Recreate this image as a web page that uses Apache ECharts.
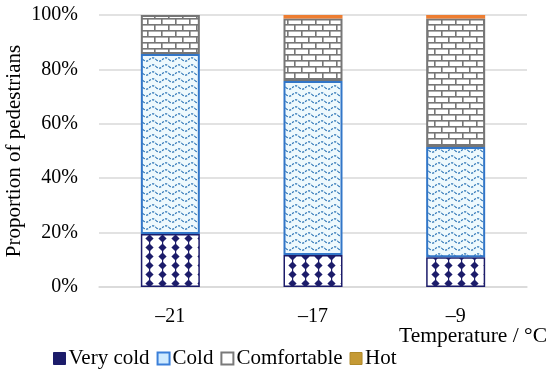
<!DOCTYPE html><html><head><meta charset="utf-8">
<script src="https://cdn.jsdelivr.net/npm/echarts@6/dist/echarts.min.js"></script>
<style>html,body{margin:0;padding:0;background:#fff}#c{width:550px;height:369px}</style>
</head><body><div id="c"></div><script>
const categories=['–21','–17','–9'];
const veryCold=[19.5,11.8,10.9];
const cold=[66.2,63.9,40.6];
const comfortable=[14.3,23.0,47.2];
const hot=[0,1.3,1.3];
const seriesNames=['Very cold','Cold','Comfortable','Hot'];
const yTitle='Proportion of pedestrians';
const xTitle='Temperature / °C';

function mk(w,h,draw){const c=document.createElement('canvas');c.width=w;c.height=h;const g=c.getContext('2d');draw(g,w,h);return c;}
const pVery=mk(13,9,(g,w,h)=>{g.fillStyle='#fff';g.fillRect(0,0,w,h);g.fillStyle='#1c1c6a';
  g.fillRect(6,0,1.2,h);
  g.beginPath();g.moveTo(6.5,0.4);g.lineTo(10.6,4.5);g.lineTo(6.5,8.6);g.lineTo(2.4,4.5);g.closePath();g.fill();});
const pCold=mk(13,7,(g,w,h)=>{g.fillStyle='#eef9fd';g.fillRect(0,0,w,h);g.strokeStyle='#2e75b6';g.lineWidth=1.2;g.setLineDash([2.2,1.3]);
  g.beginPath();for(let x=0;x<=w;x+=0.5){const y=3.5+1.7*Math.sin(x/w*2*Math.PI);if(x===0)g.moveTo(x,y);else g.lineTo(x,y);}g.stroke();});
const pBrick=mk(14,12,(g,w,h)=>{g.fillStyle='#fff';g.fillRect(0,0,w,h);g.fillStyle='#777';
  g.fillRect(0,0,w,1.6);g.fillRect(0,6,w,1.6);g.fillRect(0,0,1.6,6);g.fillRect(7,6,1.6,6);});

const chart=echarts.init(document.getElementById('c'));
const font='Liberation Serif';
function seg(name,data,fill,border,bw){
  return {name,type:'bar',stack:'t',data,barWidth:59,
    itemStyle:{color:{image:fill,repeat:'repeat'},borderColor:border,borderWidth:bw}};
}
chart.setOption({
  animation:false,
  textStyle:{fontFamily:font},
  grid:{left:99,right:23,top:15,bottom:82,outerBoundsMode:'none',containLabel:false},
  legend:{left:48,top:343,itemWidth:12,itemHeight:12,itemGap:7,icon:'rect',
    textStyle:{fontFamily:font,fontSize:21,color:'#000',padding:[0,0,0,-2]},
    data:[
      {name:seriesNames[0],itemStyle:{color:'#1c1c6a',borderColor:'#1c1c6a',borderWidth:1}},
      {name:seriesNames[1],itemStyle:{color:'#cfeaff',borderColor:'#3b7fd9',borderWidth:2}},
      {name:seriesNames[2],itemStyle:{color:'#ffffff',borderColor:'#7a7a7a',borderWidth:2}},
      {name:seriesNames[3],itemStyle:{color:'#c59a35',borderColor:'#b08a2a',borderWidth:1}}
    ]},
  xAxis:{type:'category',data:categories,
    axisLine:{lineStyle:{color:'#d9d9d9',width:1.5}},axisTick:{show:false},
    axisLabel:{fontFamily:font,fontSize:20,color:'#000',margin:20}},
  yAxis:{type:'value',min:0,max:100,interval:20,
    axisLabel:{formatter:'{value}%',fontFamily:font,fontSize:20,color:'#000',margin:21},
    axisLine:{show:false},axisTick:{show:false},
    splitLine:{lineStyle:{color:'#d9d9d9',width:1.5}}},
  graphic:[
    {type:'text',right:3,top:325,style:{text:xTitle,font:'21.5px "Liberation Serif"',fill:'#000'}},
    {type:'text',x:14,y:151,rotation:Math.PI/2,style:{text:yTitle,font:'21px "Liberation Serif"',fill:'#000',align:'center',verticalAlign:'middle'}}
  ],
  series:[
    seg(seriesNames[0],veryCold,pVery,'#1c1c6a',1.5),
    seg(seriesNames[1],cold,pCold,'#3276c8',2),
    seg(seriesNames[2],comfortable,pBrick,'#767676',2),
    {name:seriesNames[3],type:'bar',stack:'t',data:hot,barWidth:59,itemStyle:{color:'#ed7d31',borderWidth:0}}
  ]
});
</script></body></html>
